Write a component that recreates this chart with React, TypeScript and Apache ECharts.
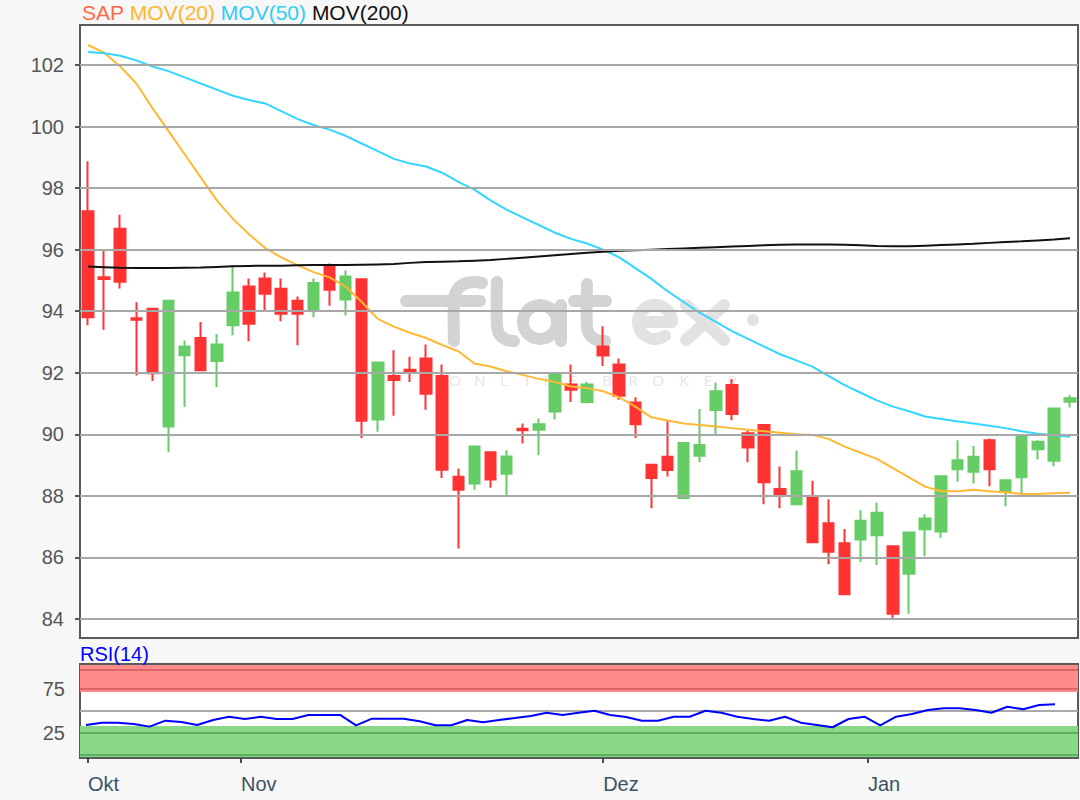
import React, { useEffect, useRef } from "react";
import * as echarts from "echarts";

// Trading days shown (Xetra, 18 Oct 2018 .. 18 Jan 2019)
const dates = [
  "2018-10-18", "2018-10-19", "2018-10-22", "2018-10-23", "2018-10-24", "2018-10-25", "2018-10-26", "2018-10-29", "2018-10-30", "2018-10-31",
  "2018-11-01", "2018-11-02", "2018-11-05", "2018-11-06", "2018-11-07", "2018-11-08", "2018-11-09", "2018-11-12", "2018-11-13", "2018-11-14",
  "2018-11-15", "2018-11-16", "2018-11-19", "2018-11-20", "2018-11-21", "2018-11-22", "2018-11-23", "2018-11-26", "2018-11-27", "2018-11-28",
  "2018-11-29", "2018-11-30", "2018-12-03", "2018-12-04", "2018-12-05", "2018-12-06", "2018-12-07", "2018-12-10", "2018-12-11", "2018-12-12",
  "2018-12-13", "2018-12-14", "2018-12-17", "2018-12-18", "2018-12-19", "2018-12-20", "2018-12-21", "2018-12-27", "2018-12-28", "2019-01-02",
  "2019-01-03", "2019-01-04", "2019-01-07", "2019-01-08", "2019-01-09", "2019-01-10", "2019-01-11", "2019-01-14", "2019-01-15", "2019-01-16",
  "2019-01-17", "2019-01-18",
];

// [open, close, low, high]
const ohlc = [
  [97.25, 93.8, 93.54, 98.87], [95.1, 95.05, 93.4, 95.96], [96.68, 94.96, 94.74, 97.13], [93.77, 93.72, 91.91, 94.29],
  [94.08, 91.98, 91.73, 94.08], [90.25, 94.34, 89.42, 94.34], [92.57, 92.85, 90.89, 93.05], [93.13, 92.08, 92.08, 93.65],
  [92.38, 92.92, 91.54, 93.26], [93.54, 94.61, 93.22, 95.49], [94.8, 93.59, 93.02, 95.06], [95.06, 94.57, 94.04, 95.26],
  [94.73, 93.92, 93.67, 95.06], [94.34, 93.92, 92.89, 94.48], [94.05, 94.92, 93.8, 95.06], [95.44, 94.7, 94.18, 95.55],
  [94.38, 95.13, 93.86, 95.32], [95.04, 90.44, 89.87, 95.04], [90.48, 92.33, 90.08, 92.33], [91.89, 91.76, 90.6, 92.73],
  [92.1, 92.0, 91.7, 92.52], [92.46, 91.32, 90.8, 92.92], [91.89, 88.85, 88.58, 92.27], [88.62, 88.2, 86.29, 88.89],
  [88.4, 89.6, 88.2, 89.6], [89.42, 88.53, 88.26, 89.42], [88.72, 89.28, 88.02, 89.48], [90.18, 90.13, 89.7, 90.35],
  [90.15, 90.33, 89.32, 90.51], [90.74, 91.97, 90.48, 91.97], [91.62, 91.45, 91.05, 92.27], [91.05, 91.62, 91.0, 91.7],
  [92.85, 92.56, 92.22, 93.51], [92.27, 91.25, 91.12, 92.46], [91.03, 90.33, 89.88, 91.2], [89.01, 88.58, 87.6, 89.01],
  [89.27, 88.84, 88.63, 90.47], [87.93, 89.72, 87.93, 89.72], [89.3, 89.65, 89.09, 90.82], [90.79, 91.4, 89.95, 91.68],
  [91.6, 90.66, 90.46, 91.8], [90.03, 89.57, 89.09, 90.12], [90.3, 88.44, 87.73, 90.3], [88.22, 88.06, 87.6, 88.95],
  [87.73, 88.8, 87.73, 89.47], [87.97, 86.49, 86.49, 88.49], [87.11, 86.18, 85.78, 87.89], [86.46, 84.8, 84.8, 86.92],
  [86.58, 87.19, 85.85, 87.53], [86.72, 87.45, 85.75, 87.78], [86.36, 84.17, 83.98, 86.36], [85.47, 86.81, 84.17, 86.81],
  [86.91, 87.26, 86.04, 87.4], [86.84, 88.64, 86.64, 88.64], [88.86, 89.16, 88.46, 89.81], [88.78, 89.27, 88.4, 89.62],
  [89.81, 88.86, 88.31, 89.86], [88.13, 88.51, 87.66, 88.51], [88.6, 89.97, 88.08, 89.97], [89.51, 89.76, 89.18, 89.81],
  [89.14, 90.84, 88.96, 90.84], [91.06, 91.17, 90.87, 91.27],
];

const mov20 = [
  102.65, 102.4, 101.95, 101.4, 100.6, 99.85, 99.1, 98.35, 97.6, 97.0,
  96.5, 96.05, 95.75, 95.5, 95.27, 95.1, 94.8, 94.3, 93.75, 93.5,
  93.3, 93.13, 92.9, 92.7, 92.3, 92.2, 92.05, 91.93, 91.8, 91.7,
  91.55, 91.5, 91.4, 91.2, 90.9, 90.55, 90.45, 90.35, 90.3, 90.25,
  90.2, 90.15, 90.1, 90.05, 90.0, 89.98, 89.85, 89.6, 89.4, 89.2,
  88.9, 88.6, 88.3, 88.15, 88.15, 88.2, 88.15, 88.12, 88.06, 88.06,
  88.08, 88.1,
];

const mov50 = [
  102.42, 102.38, 102.3, 102.15, 101.95, 101.8, 101.6, 101.4, 101.2, 101.0,
  100.86, 100.75, 100.5, 100.25, 100.05, 99.9, 99.7, 99.45, 99.2, 98.95,
  98.8, 98.7, 98.5, 98.2, 97.95, 97.6, 97.3, 97.05, 96.8, 96.55,
  96.35, 96.2, 96.0, 95.75, 95.4, 95.05, 94.65, 94.3, 93.95, 93.65,
  93.35, 93.1, 92.85, 92.6, 92.4, 92.2, 91.9, 91.6, 91.35, 91.1,
  90.9, 90.75, 90.58, 90.5, 90.42, 90.35, 90.28, 90.2, 90.1, 90.02,
  89.97, 89.92,
];

const mov200 = [
  95.45, 95.43, 95.41, 95.4, 95.4, 95.4, 95.41, 95.42, 95.44, 95.46,
  95.47, 95.48, 95.48, 95.49, 95.5, 95.5, 95.5, 95.51, 95.52, 95.53,
  95.57, 95.6, 95.61, 95.62, 95.64, 95.66, 95.7, 95.74, 95.78, 95.82,
  95.86, 95.9, 95.93, 95.96, 95.98, 96.0, 96.02, 96.04, 96.06, 96.08,
  96.1, 96.12, 96.14, 96.16, 96.17, 96.17, 96.17, 96.16, 96.14, 96.12,
  96.11, 96.11, 96.13, 96.15, 96.17, 96.19, 96.22, 96.25, 96.27, 96.3,
  96.33, 96.37,
];

const rsi14 = [
  34, 36.7, 36.7, 35.2, 32.2, 39, 37.5, 34.1, 39.8, 43.5,
  40.9, 43.5, 40.9, 40.9, 45.5, 45.5, 45.5, 33.7, 41.3, 41.3,
  41.3, 38.3, 33.7, 33.7, 39.8, 37.2, 39.8, 42, 44.3, 48,
  45.5, 48, 50.3, 45.5, 43.2, 39, 39, 43.5, 43.5, 50.3,
  48, 43.5, 40.9, 39, 43.5, 36.7, 34.1, 31.5, 40.9, 43.5,
  33.7, 43.5, 46.6, 51.1, 53, 53, 51.1, 48, 54.9, 51.9,
  56.8, 57.6,
];

const priceTicks = [84, 86, 88, 90, 92, 94, 96, 98, 100, 102];
const rsiTicks = [25, 75];
const monthLabels = ["Okt", "Nov", "Dez", "Jan"];
const monthPos = [0, 9.5, 32, 48.45];
const wmLetters = ["O", "N", "L", "I", "N", "E", "B", "R", "O", "K", "E", "R"];
const wmLetterX = [455, 480, 504, 527, 549, 573, 607, 633, 658, 684, 708, 732];

const FONT = "'Liberation Sans', Arial, sans-serif";

export default function App() {
  const ref = useRef<HTMLDivElement>(null);

  useEffect(() => {
    if (!ref.current) return;
    const chart = echarts.init(ref.current, undefined, { renderer: "svg" });
    const wm = "#d3d3d3";
    const wm2 = "#e2e2e2";
    const stroke = (c: string, w = 12) => ({ stroke: c, lineWidth: w, lineCap: "round", lineJoin: "round", fill: null });

    const option: any = {
      animation: false,
      backgroundColor: "#f7f7f7",
      textStyle: { fontFamily: FONT },
      title: [
        {
          text: "{a|SAP} {b|MOV(20)} {c|MOV(50)} {d|MOV(200)}",
          left: 82,
          top: 2,
          padding: 0,
          textStyle: {
            fontSize: 21,
            fontFamily: FONT,
            fontWeight: "normal",
            rich: {
              a: { color: "#ff6a45", fontSize: 21, fontFamily: FONT },
              b: { color: "#ffb42c", fontSize: 21, fontFamily: FONT },
              c: { color: "#33ccf5", fontSize: 21, fontFamily: FONT },
              d: { color: "#111111", fontSize: 21, fontFamily: FONT },
            },
          },
        },
        {
          text: "RSI(14)",
          left: 80,
          top: 644,
          padding: 0,
          textStyle: { color: "#0000ff", fontSize: 20, fontFamily: FONT, fontWeight: "normal" },
        },
      ],
      graphic: {
        z: 1,
        elements: [
          { type: "line", shape: { x1: 406, y1: 301, x2: 480, y2: 301 }, style: stroke(wm) },
          { type: "polyline", shape: { points: [[454, 341], [454, 300], [457, 290], [464, 284], [474, 282], [482, 283]], smooth: 0.3 }, style: stroke(wm) },
          { type: "polyline", shape: { points: [[497, 282], [497, 326], [500, 335], [507, 340], [514, 341]], smooth: 0.3 }, style: stroke(wm) },
          { type: "arc", shape: { cx: 540, cy: 322, r: 17, startAngle: 0, endAngle: Math.PI * 2 }, style: stroke(wm) },
          { type: "line", shape: { x1: 561, y1: 305, x2: 561, y2: 341 }, style: stroke(wm) },
          { type: "polyline", shape: { points: [[587, 284], [587, 326], [590, 335], [597, 340], [605, 341]], smooth: 0.3 }, style: stroke(wm) },
          { type: "line", shape: { x1: 574, y1: 301, x2: 606, y2: 301 }, style: stroke(wm) },
          { type: "arc", shape: { cx: 655, cy: 322, r: 17, startAngle: Math.PI * 0.3, endAngle: Math.PI * 2 }, style: stroke(wm2) },
          { type: "line", shape: { x1: 640, y1: 322, x2: 671, y2: 322 }, style: stroke(wm2) },
          { type: "line", shape: { x1: 686, y1: 305, x2: 724, y2: 340 }, style: stroke(wm2) },
          { type: "line", shape: { x1: 724, y1: 305, x2: 686, y2: 340 }, style: stroke(wm2) },
          { type: "circle", shape: { cx: 753, cy: 320, r: 6 }, style: { fill: wm2 } },
          ...wmLetters.map((ch, i) => ({
            type: "text",
            x: wmLetterX[i],
            y: 380,
            style: { text: ch, fill: "#e4e4e4", fontSize: 15, fontFamily: "'Open Sans', sans-serif", align: "center", verticalAlign: "middle" },
          })),
        ],
      },
      grid: [
        { left: 80, top: 25, width: 998, height: 613, show: true, backgroundColor: "#ffffff", borderColor: "#5a5a5a", borderWidth: 2 },
        { left: 80, top: 664, width: 998, height: 94, show: true, backgroundColor: "#ffffff", borderColor: "#5a5a5a", borderWidth: 2 },
        { left: 86, top: 664, width: 969, height: 94, show: false },
      ],
      xAxis: [
        { type: "category", gridIndex: 0, data: dates, boundaryGap: true, axisLine: { show: false }, axisTick: { show: false }, axisLabel: { show: false }, splitLine: { show: false } },
        {
          type: "value", gridIndex: 1, min: -0.5, max: 61.5, position: "bottom",
          axisLine: { show: false },
          splitLine: { show: false },
          axisTick: { show: true, customValues: monthPos, length: 8, lineStyle: { color: "#3b5266", width: 2 } },
          axisLabel: {
            show: true, customValues: monthPos, align: "left", margin: 16, fontSize: 20, fontFamily: FONT, color: "#3b5266",
            formatter: (v: number) => {
              const k = monthPos.findIndex((p) => Math.abs(p - v) < 1e-6);
              return k >= 0 ? monthLabels[k] : "";
            },
          },
        },
        { type: "category", gridIndex: 2, data: dates, boundaryGap: false, show: false },
      ],
      yAxis: [
        {
          type: "value", gridIndex: 0, min: 83.38, max: 103.3,
          axisLine: { show: false },
          splitLine: { show: false },
          axisTick: { show: true, customValues: priceTicks, length: 5, lineStyle: { color: "#555", width: 2 } },
          axisLabel: { show: true, customValues: priceTicks, margin: 16, fontSize: 20, fontFamily: FONT, color: "#555" },
        },
        {
          type: "value", gridIndex: 1, min: -3.5, max: 103.5,
          axisLine: { show: false },
          splitLine: { show: false },
          axisTick: { show: true, customValues: rsiTicks, length: 5, lineStyle: { color: "#555", width: 2 } },
          axisLabel: { show: true, customValues: rsiTicks, margin: 15, fontSize: 20, fontFamily: FONT, color: "#555" },
        },
        { type: "value", gridIndex: 2, min: -3.5, max: 103.5, show: false, splitLine: { show: false } },
      ],
      series: [
        {
          type: "line", xAxisIndex: 0, yAxisIndex: 0, data: [], z: 2, silent: true,
          markLine: {
            silent: true, symbol: ["none", "none"], label: { show: false },
            lineStyle: { color: "#a8a8a8", width: 2, type: "solid" },
            data: priceTicks.map((v) => ({ yAxis: v })),
          },
        },
        {
          type: "candlestick", name: "SAP", xAxisIndex: 0, yAxisIndex: 0, data: ohlc, z: 3,
          barWidth: 11,
          itemStyle: { color: "#66cc66", color0: "#ff3333", borderColor: "#66cc66", borderColor0: "#ff3333", borderWidth: 2 },
        },
        { type: "line", name: "MOV(20)", xAxisIndex: 0, yAxisIndex: 0, data: mov20, showSymbol: false, z: 4, lineStyle: { color: "#ffb833", width: 2 }, itemStyle: { color: "#ffb833" } },
        { type: "line", name: "MOV(50)", xAxisIndex: 0, yAxisIndex: 0, data: mov50, showSymbol: false, z: 4, lineStyle: { color: "#33d6ff", width: 2 }, itemStyle: { color: "#33d6ff" } },
        { type: "line", name: "MOV(200)", xAxisIndex: 0, yAxisIndex: 0, data: mov200, showSymbol: false, z: 4, lineStyle: { color: "#111111", width: 2 }, itemStyle: { color: "#111111" } },
        {
          type: "line", xAxisIndex: 1, yAxisIndex: 1, data: [], z: 2, silent: true,
          markArea: {
            silent: true,
            data: [
              [{ yAxis: 71.5, itemStyle: { color: "#ff8a8a" } }, { yAxis: 102.3 }],
              [{ yAxis: -2.3, itemStyle: { color: "#88d888" } }, { yAxis: 33 }],
            ],
          },
          markLine: {
            silent: true, symbol: ["none", "none"], label: { show: false },
            data: [
              { yAxis: 97.5, lineStyle: { color: "#dd6464", width: 2, type: "solid" } },
              { yAxis: 75, lineStyle: { color: "#dd6464", width: 2, type: "solid" } },
              { yAxis: 50, lineStyle: { color: "#aaaaaa", width: 2, type: "solid" } },
              { yAxis: 25, lineStyle: { color: "#5cb05c", width: 2, type: "solid" } },
              { yAxis: 0, lineStyle: { color: "#5cb05c", width: 2, type: "solid" } },
            ],
          },
        },
        { type: "line", name: "RSI(14)", xAxisIndex: 2, yAxisIndex: 2, data: rsi14, showSymbol: false, z: 5, lineStyle: { color: "#0000ff", width: 2 }, itemStyle: { color: "#0000ff" } },
      ],
    };

    chart.setOption(option);
    return () => chart.dispose();
  }, []);

  return (
    <div
      ref={ref}
      style={{ position: "absolute", left: 0, top: 0, width: 1080, height: 800, background: "#f7f7f7" }}
    />
  );
}
